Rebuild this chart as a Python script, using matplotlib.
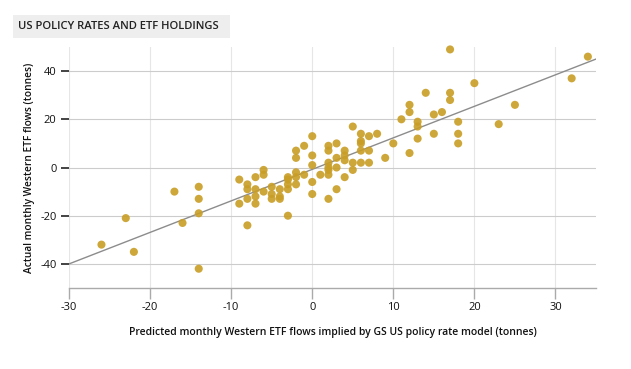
"""
US policy rates vs ETF holdings scatter.
"""

import matplotlib.pyplot as plt
from matplotlib.patches import Rectangle

plt.rcParams["font.family"] = ["Open Sans", "DejaVu Sans"]
plt.rcParams["axes.unicode_minus"] = False

# 预测值 (x) 与实际值 (y)，单位：吨
predicted = [
    -26, -23, -22, -17, -16, -14, -14, -14, -14,
    -9, -9, -8, -8, -8, -8,
    -7, -7, -7, -7,
    -6, -6, -6,
    -5, -5, -5,
    -4, -4, -4,
    -3, -3, -3, -3, -3,
    -2, -2, -2, -2, -2,
    -1, -1,
    0, 0, 0, 0, 0,
    1,
    2, 2, 2, 2, 2, 2, 2,
    3, 3, 3, 3,
    4, 4, 4, 4,
    5, 5, 5,
    6, 6, 6, 6, 6,
    7, 7, 7,
    8, 9, 10,
    11, 12, 12, 12,
    13, 13, 13,
    14, 15, 15, 16,
    17, 17, 17,
    18, 18, 18,
    20, 23, 25, 32, 34,
]
actual = [
    -32, -21, -35, -10, -23, -8, -13, -19, -42,
    -5, -15, -7, -9, -13, -24,
    -4, -9, -12, -15,
    -1, -3, -10,
    -8, -11, -13,
    -9, -12, -13,
    -4, -5, -7, -9, -20,
    -2, -4, -7, 4, 7,
    9, -3,
    13, 5, 1, -6, -11,
    -3,
    9, 7, 2, 0, -1, -3, -13,
    10, 4, 0, -9,
    7, 5, 3, -4,
    17, 2, -1,
    14, 11, 10, 7, 2,
    13, 7, 2,
    14, 4, 10,
    20, 26, 23, 6,
    19, 17, 12,
    31, 22, 14, 23,
    49, 31, 28,
    19, 14, 10,
    35, 18, 26, 37, 46,
]

# 回归线端点
fit_x = [-30, 35]
fit_y = [-40, 45]

x_ticks = [-30, -20, -10, 0, 10, 20, 30]
y_ticks = [-40, -20, 0, 20, 40]

TITLE = "US POLICY RATES AND ETF HOLDINGS"
X_LABEL = "Predicted monthly Western ETF flows implied by GS US policy rate model (tonnes)"
Y_LABEL = "Actual monthly Western ETF flows (tonnes)"


def main() -> None:
    fig = plt.figure(figsize=(6.31, 3.69), dpi=100)
    ax = fig.add_axes([0.1094, 0.2195, 0.8351, 0.6531])

    # 网格
    for xv in x_ticks:
        ax.axvline(xv, color="#E6E6E6", lw=0.8, zorder=0)
    for yv in y_ticks:
        ax.axhline(yv, color="#CCCCCC", lw=0.8, zorder=0)

    ax.plot(fit_x, fit_y, color="#8C8C8C", lw=1.0, zorder=2)
    ax.scatter(predicted, actual, s=34, color="#C99E26", alpha=0.9,
               edgecolors="none", zorder=3, clip_on=False)

    ax.set_xlim(-30, 35)
    ax.set_ylim(-50, 50)
    ax.set_xticks(x_ticks)
    ax.set_yticks(y_ticks)

    for side in ["top", "right", "left"]:
        ax.spines[side].set_visible(False)
    ax.spines["bottom"].set_color("#AAAAAA")
    ax.spines["bottom"].set_linewidth(1.0)

    ax.tick_params(axis="x", length=8, width=1, color="#AAAAAA",
                   labelsize=8, labelcolor="#111111", pad=2)
    ax.tick_params(axis="y", length=6, width=1.2, color="#222222",
                   labelsize=8, labelcolor="#111111", pad=3)

    ax.set_xlabel(X_LABEL, fontsize=7.5, color="#111111", labelpad=10,
                  fontweight="semibold")
    ax.set_ylabel(Y_LABEL, fontsize=7.3, color="#111111", labelpad=4,
                  fontweight="semibold")

    # 标题框
    fig.patches.append(Rectangle((13 / 631, 1 - 38 / 369), 217 / 631, 23 / 369,
                                 transform=fig.transFigure,
                                 facecolor="#EEEEEE", edgecolor="none"))
    fig.text(18 / 631, 1 - 26.5 / 369, TITLE, fontsize=8.1,
             fontweight="semibold", color="#222222", va="center", ha="left")

    fig.savefig("out.png", dpi=100)


if __name__ == "__main__":
    main()
